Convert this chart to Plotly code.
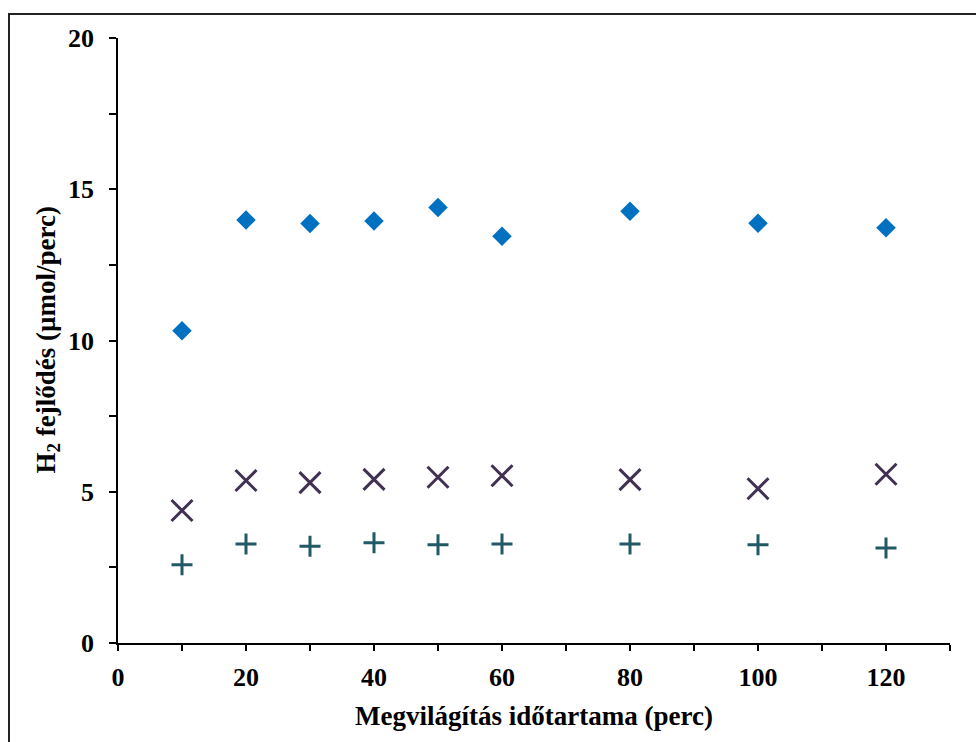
import plotly.graph_objects as go

x_vals = [10, 20, 30, 40, 50, 60, 80, 100, 120]
diamond_vals = [10.32, 13.98, 13.87, 13.95, 14.40, 13.45, 14.27, 13.88, 13.73]
cross_vals = [4.38, 5.37, 5.30, 5.41, 5.48, 5.53, 5.40, 5.10, 5.58]
plus_vals = [2.59, 3.27, 3.20, 3.31, 3.25, 3.27, 3.27, 3.25, 3.14]

x_title = "Megvilágítás időtartama (perc)"
y_title = "H<sub>2</sub> fejlődés (µmol/perc)"

W, H = 976, 742
L, R, T, B = 118, 26, 38, 99
pw, ph = W - L - R, H - T - B

font = "Liberation Serif, Times New Roman, serif"

fig = go.Figure()
fig.add_trace(go.Scatter(x=x_vals, y=diamond_vals, mode="markers",
                         marker=dict(symbol="diamond", size=15, color="#0070C0"),
                         name="A"))
fig.add_trace(go.Scatter(x=x_vals, y=cross_vals, mode="markers",
                         marker=dict(symbol="x-thin", size=21, color="#403152",
                                     line=dict(width=3, color="#403152")),
                         name="B"))
fig.add_trace(go.Scatter(x=x_vals, y=plus_vals, mode="markers",
                         marker=dict(symbol="cross-thin", size=15, color="#215967",
                                     line=dict(width=3, color="#215967")),
                         name="C"))

fig.update_layout(
    width=W, height=H,
    margin=dict(l=L, r=R, t=T, b=B),
    paper_bgcolor="white", plot_bgcolor="white",
    showlegend=False,
    font=dict(family=font, color="black", size=25),
    xaxis=dict(range=[0, 130], dtick=20, tick0=0, showgrid=False, zeroline=False,
               showline=True, linecolor="black", linewidth=1.5,
               ticks="outside", ticklen=6, tickwidth=1.5, tickcolor="black",
               tickfont=dict(size=26, family=font, weight="bold", color="black"),
               ticklabelstandoff=4,
               minor=dict(dtick=10, ticks="outside", ticklen=6, tickwidth=1.5, tickcolor="black"),
               fixedrange=True),
    yaxis=dict(range=[0, 20], dtick=5, tick0=0, showgrid=False, zeroline=False,
               showline=True, linecolor="black", linewidth=1.5,
               ticks="outside", ticklen=7, tickwidth=1.5, tickcolor="black",
               tickfont=dict(size=26, family=font, weight="bold", color="black"),
               ticklabelstandoff=10,
               minor=dict(dtick=2.5, ticks="outside", ticklen=7, tickwidth=1.5, tickcolor="black"),
               fixedrange=True),
    annotations=[
        dict(text=x_title, xref="paper", yref="paper", x=0.5, y=(643 - 716) / ph,
             showarrow=False, xanchor="center", yanchor="middle",
             font=dict(size=27, family=font, weight="bold", color="black")),
        dict(text=y_title, xref="paper", yref="paper", x=(47 - L) / pw, y=0.5,
             textangle=-90, showarrow=False, xanchor="center", yanchor="middle",
             font=dict(size=27, family=font, weight="bold", color="black")),
    ],
    shapes=[
        dict(type="rect", xref="paper", yref="paper",
             x0=(9 - L) / pw, x1=(1000 - L) / pw,
             y0=1 - (780 - T) / ph, y1=1 + (T - 14) / ph,
             line=dict(color="#222222", width=2), fillcolor="rgba(0,0,0,0)", layer="below"),
    ],
)

fig.write_html("out.html")
